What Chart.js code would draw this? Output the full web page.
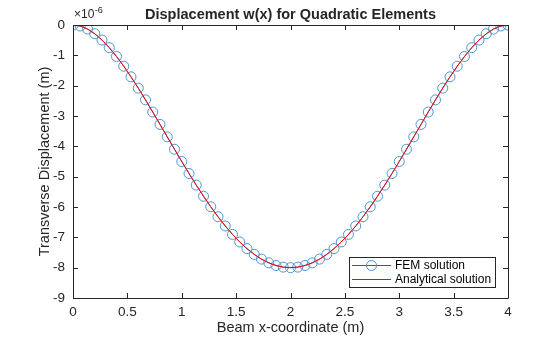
<!DOCTYPE html>
<html>
<head>
<meta charset="utf-8">
<script src="https://cdn.jsdelivr.net/npm/chart.js@4/dist/chart.umd.min.js"></script>
<style>
  html, body { margin: 0; padding: 0; background: #fff; }
  #wrap { width: 560px; height: 337px; }
</style>
</head>
<body>
<div id="wrap"><canvas id="c" width="560" height="337"></canvas></div>
<script>
// ---- data (displacement in units of 1e-6 m) ----
const xNodes = [
  0.0000, 0.0667, 0.1333, 0.2000, 0.2667, 0.3333, 0.4000, 0.4667, 0.5333, 0.6000,
  0.6667, 0.7333, 0.8000, 0.8667, 0.9333, 1.0000, 1.0667, 1.1333, 1.2000, 1.2667,
  1.3333, 1.4000, 1.4667, 1.5333, 1.6000, 1.6667, 1.7333, 1.8000, 1.8667, 1.9333,
  2.0000, 2.0667, 2.1333, 2.2000, 2.2667, 2.3333, 2.4000, 2.4667, 2.5333, 2.6000,
  2.6667, 2.7333, 2.8000, 2.8667, 2.9333, 3.0000, 3.0667, 3.1333, 3.2000, 3.2667,
  3.3333, 3.4000, 3.4667, 3.5333, 3.6000, 3.6667, 3.7333, 3.8000, 3.8667, 3.9333,
  4.0000
];
const femW = [
  0, -0.034, -0.133, -0.289, -0.496, -0.747, -1.037, -1.359, -1.709, -2.081,
  -2.469, -2.869, -3.277, -3.687, -4.096, -4.500, -4.895, -5.278, -5.645, -5.993,
  -6.321, -6.625, -6.903, -7.153, -7.373, -7.562, -7.718, -7.841, -7.929, -7.982,
  -8.000, -7.982, -7.929, -7.841, -7.718, -7.562, -7.373, -7.153, -6.903, -6.625,
  -6.321, -5.993, -5.645, -5.278, -4.895, -4.500, -4.096, -3.687, -3.277, -2.869,
  -2.469, -2.081, -1.709, -1.359, -1.037, -0.747, -0.496, -0.289, -0.133, -0.034,
  0
];
const analyticalW = [
  0, -0.034, -0.133, -0.289, -0.496, -0.747, -1.037, -1.359, -1.709, -2.081,
  -2.469, -2.869, -3.277, -3.687, -4.096, -4.500, -4.895, -5.278, -5.645, -5.993,
  -6.321, -6.625, -6.903, -7.153, -7.373, -7.562, -7.718, -7.841, -7.929, -7.982,
  -8.000, -7.982, -7.929, -7.841, -7.718, -7.562, -7.373, -7.153, -6.903, -6.625,
  -6.321, -5.993, -5.645, -5.278, -4.895, -4.500, -4.096, -3.687, -3.277, -2.869,
  -2.469, -2.081, -1.709, -1.359, -1.037, -0.747, -0.496, -0.289, -0.133, -0.034,
  0
];
const xTicks = [0, 0.5, 1, 1.5, 2, 2.5, 3, 3.5, 4];
const yTicks = [0, -1, -2, -3, -4, -5, -6, -7, -8, -9];
const seriesNames = ['FEM solution', 'Analytical solution'];
const titleText = 'Displacement w(x) for Quadratic Elements';
const xLabel = 'Beam x-coordinate (m)';
const yLabel = 'Transverse Displacement (m)';
const exponentText = '-6';

const AX = '#262626';
const BLUE = '#0072BD';
const MARK = '#4f94d4';
const RED = '#FF0000';
const FONT = '"Liberation Sans", Arial, Helvetica, sans-serif';

const femData = xNodes.map((x, i) => ({ x: x, y: femW[i] }));
const anaData = xNodes.map((x, i) => ({ x: x, y: analyticalW[i] }));

const matlabPlugin = {
  id: 'matlab',
  afterDraw(chart) {
    const ctx = chart.ctx;
    const a = chart.chartArea;
    const xs = chart.scales.x, ys = chart.scales.y;
    ctx.save();
    // box
    ctx.strokeStyle = AX;
    ctx.lineWidth = 1;
    ctx.beginPath();
    ctx.rect(Math.round(a.left) + 0.5, Math.round(a.top) + 0.5,
             Math.round(a.right - a.left), Math.round(a.bottom - a.top));
    ctx.stroke();
    // inward ticks
    const tl = 5;
    ctx.beginPath();
    xTicks.forEach(v => {
      const px = Math.round(xs.getPixelForValue(v)) + 0.5;
      ctx.moveTo(px, a.bottom); ctx.lineTo(px, a.bottom - tl);
      ctx.moveTo(px, a.top); ctx.lineTo(px, a.top + tl);
    });
    yTicks.forEach(v => {
      const py = Math.round(ys.getPixelForValue(v)) + 0.5;
      ctx.moveTo(a.left, py); ctx.lineTo(a.left + tl, py);
      ctx.moveTo(a.right, py); ctx.lineTo(a.right - tl, py);
    });
    ctx.stroke();

    ctx.fillStyle = AX;
    // title
    ctx.font = 'bold 14.5px ' + FONT;
    ctx.textAlign = 'center';
    ctx.textBaseline = 'alphabetic';
    ctx.fillText(titleText, (a.left + a.right) / 2, 19);
    // x label
    ctx.font = '14.5px ' + FONT;
    ctx.fillText(xLabel, (a.left + a.right) / 2, 332);
    // y label
    ctx.save();
    ctx.translate(49, (a.top + a.bottom) / 2);
    ctx.rotate(-Math.PI / 2);
    ctx.fillText(yLabel, 0, 0);
    ctx.restore();
    // exponent
    ctx.textAlign = 'left';
    ctx.font = '12px ' + FONT;
    ctx.fillText('\u00d710', 74, 18);
    const w = ctx.measureText('\u00d710').width;
    ctx.font = '9px ' + FONT;
    ctx.fillText(exponentText, 74 + w + 0.5, 13);

    // legend
    const lx = 349, ly = 257, lw = 146, lh = 30;
    ctx.fillStyle = '#fff';
    ctx.fillRect(lx, ly, lw, lh);
    ctx.strokeStyle = AX;
    ctx.strokeRect(lx + 0.5, ly + 0.5, lw, lh);
    const r1 = 265.5, r2 = 279.5;
    ctx.lineWidth = 1;
    ctx.strokeStyle = BLUE;
    ctx.beginPath(); ctx.moveTo(352, r1); ctx.lineTo(391, r1); ctx.stroke();
    ctx.strokeStyle = MARK;
    ctx.beginPath(); ctx.arc(371.5, r1, 5, 0, Math.PI * 2); ctx.stroke();
    ctx.strokeStyle = RED;
    ctx.beginPath(); ctx.moveTo(352, r2); ctx.lineTo(391, r2); ctx.stroke();
    ctx.fillStyle = '#000';
    ctx.font = '12px ' + FONT;
    ctx.textBaseline = 'middle';
    ctx.fillText(seriesNames[0], 395, r1);
    ctx.fillText(seriesNames[1], 395, r2);
    ctx.restore();
  }
};

new Chart(document.getElementById('c'), {
  type: 'scatter',
  data: {
    datasets: [
      {
        label: seriesNames[0],
        data: femData,
        showLine: true,
        borderColor: BLUE,
        borderWidth: 1,
        pointStyle: 'circle',
        pointRadius: 5,
        pointBorderColor: MARK,
        pointBackgroundColor: 'rgba(0,0,0,0)',
        pointBorderWidth: 1,
        tension: 0,
        order: 2
      },
      {
        label: seriesNames[1],
        data: anaData,
        showLine: true,
        borderColor: RED,
        borderWidth: 1,
        pointRadius: 0,
        tension: 0,
        order: 1
      }
    ]
  },
  options: {
    responsive: false,
    animation: false,
    devicePixelRatio: 1,
    layout: { padding: { left: 0, right: 52, top: 25, bottom: 0 } },
    plugins: { legend: { display: false }, tooltip: { enabled: false }, title: { display: false } },
    scales: {
      x: {
        type: 'linear', min: 0, max: 4,
        afterFit: s => { s.height = 39; },
        afterBuildTicks: s => { s.ticks = xTicks.map(v => ({ value: v })); },
        grid: { display: false, drawTicks: false },
        border: { display: false },
        ticks: { color: AX, font: { family: FONT, size: 13.5 }, padding: 6, maxRotation: 0,
                 callback: v => String(v) }
      },
      y: {
        type: 'linear', min: -9, max: 0,
        afterFit: s => { s.width = 73; },
        afterBuildTicks: s => { s.ticks = yTicks.map(v => ({ value: v })); },
        grid: { display: false, drawTicks: false },
        border: { display: false },
        ticks: { color: AX, font: { family: FONT, size: 13.5 }, padding: 8,
                 callback: v => String(v) }
      }
    }
  },
  plugins: [matlabPlugin]
});
</script>
</body>
</html>
